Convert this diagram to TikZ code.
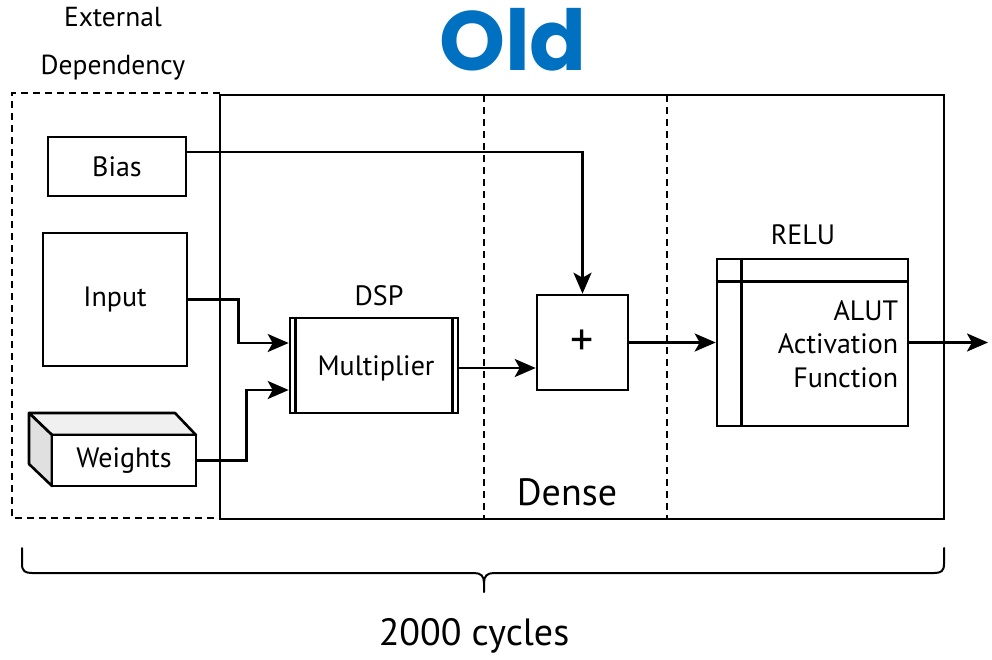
\documentclass[tikz,border=0pt]{standalone}
\usepackage{fontspec}
\setmainfont{PT Sans}
\newfontfamily\titlefont{Poppins}
\usetikzlibrary{arrows.meta,calc}
\definecolor{oldblue}{HTML}{0070C0}
\definecolor{topgray}{HTML}{F0F0F0}
\definecolor{sidegray}{HTML}{E0E0E0}
\tikzset{
  blk/.style={draw, line width=2.6pt, inner sep=0pt},
  frame/.style={draw, line width=2.4pt, inner sep=0pt},
  dashframe/.style={draw, line width=2.4pt, dash pattern=on 7pt off 5pt},
  conn/.style={line width=2.6pt},
  arr/.style={conn, -{Stealth[length=21pt,width=18pt,inset=5pt]}},
  lbl/.style={font=\fontsize{28}{32}\selectfont, inner sep=0pt},
  big/.style={font=\fontsize{38}{42}\selectfont, inner sep=0pt}
}
\begin{document}
\begin{tikzpicture}[x=1pt,y=-1pt]
\useasboundingbox (0,0) rectangle (992,659);
% title
\node[inner sep=0pt, text=oldblue, font=\titlefont\bfseries\fontsize{84}{90}\selectfont] (title) at (513,40) {Old};
% frames
\node[frame, minimum width=724pt, minimum height=424pt] (main) at (582,307) {};
\draw[dashframe] (220,93) -- (12,93) -- (12,518) -- (220,518);
\coordinate (d1t) at (484,95); \coordinate (d1b) at (484,519);
\coordinate (d2t) at (667,95); \coordinate (d2b) at (667,519);
\draw[dashframe] (d1t) -- (d1b);
\draw[dashframe] (d2t) -- (d2b);
\node[lbl, align=center, font=\fontsize{27.5}{48}\selectfont] (ext) at (113,44) {External\\Dependency};
\node[big] (dense) at (567,492) {Dense};
% input blocks
\node[blk, minimum width=138pt, minimum height=59pt] (bias) at (117,166.5) {};
\node[lbl] at (bias.center) {Bias};
\node[blk, minimum width=144pt, minimum height=133pt] (input) at (115,299.5) {};
\node[lbl] at (input.center) {Input};
% weights cuboid
\draw[conn, fill=topgray, line join=round] (29,413) -- (175,413) -- (196,435) -- (52,435) -- cycle;
\draw[conn, fill=sidegray, line join=round] (29,413) -- (52,435) -- (52,486) -- (29,464) -- cycle;
\node[blk, fill=white, minimum width=144pt, minimum height=51pt] (weights) at (124,460.5) {};
\node[lbl] at (weights.center) {Weights};
% DSP
\node[blk, minimum width=168pt, minimum height=95pt] (dsp) at (374,365.5) {};
\draw[conn] ($(dsp.north west)+(7,0)$) -- ($(dsp.south west)+(7,0)$);
\draw[conn] ($(dsp.north east)+(-7,0)$) -- ($(dsp.south east)+(-7,0)$);
\node[lbl] at (376,368) {Multiplier};
\node[lbl] (dsplbl) at (379,296) {DSP};
% plus
\node[blk, minimum width=91pt, minimum height=95pt] (plus) at (582.5,342.5) {};
\node[lbl, font=\fontsize{46}{50}\selectfont] at (plus.center) {+};
% RELU
\node[blk, minimum width=191pt, minimum height=167pt] (relu) at (812.5,342.5) {};
\draw[conn] ($(relu.north west)+(0,24)$) -- ($(relu.north east)+(0,24)$);
\draw[conn] ($(relu.north west)+(26,0)$) -- ($(relu.south west)+(26,0)$);
\node[lbl, align=right, font=\fontsize{28}{33.5}\selectfont] (relutxt) at (838,344) {ALUT\\Activation\\Function};
\node[lbl] (relulbl) at (803,235) {RELU};
% connectors
\draw[arr] (bias.east) ++(0,-14.5) -| (plus.north);
\draw[arr] (input.east) -- ++(50,0) |- ($(dsp.west)+(0,-22.5)$);
\draw[arr] (weights.east) -- ++(49,0) |- ($(dsp.west)+(0,24.5)$);
\draw[arr] ($(dsp.east)+(0,2.5)$) -- ($(plus.west)+(0,25.5)$);
\draw[arr] (plus.east) -- (relu.west);
\coordinate (out) at (988,342.5);
\draw[arr] (relu.east) -- (out);
% brace
\draw[line width=2pt, line cap=round] (22,548) -- (22,564) .. controls (22,571) and (25,573) .. (32,573)
  -- (474,573) .. controls (481,573) and (484,576) .. (484,583) -- (484,592);
\draw[line width=2pt, line cap=round] (944,548) -- (944,564) .. controls (944,571) and (941,573) .. (934,573)
  -- (494,573) .. controls (487,573) and (484,576) .. (484,583);
\node[big] (cycles) at (474,636) {2000 cycles};
\end{tikzpicture}
\end{document}
